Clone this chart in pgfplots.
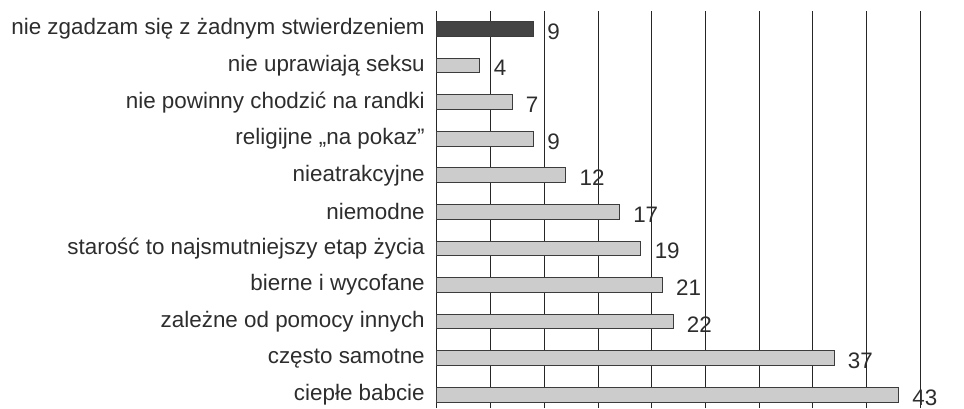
\documentclass[border=0pt]{standalone}
\usepackage{fontspec}
\setmainfont{Liberation Sans}
\usepackage{xcolor}
\definecolor{barfill}{RGB}{204,204,204}
\definecolor{bardark}{RGB}{68,68,68}
\definecolor{barline}{RGB}{60,60,60}
\definecolor{txt}{RGB}{45,45,45}
\usepackage{pgfplots}
\pgfplotsset{compat=1.18}

\begin{document}
\begin{tikzpicture}
% frame in px*0.75pt so that the page keeps the 964x408 proportions
\path[use as bounding box] (-327.75pt,0pt) rectangle (395.25pt,306pt);
\begin{axis}[
  at={(0pt,0pt)}, anchor=south west,
  scale only axis,
  width=395.25pt, height=297.75pt,
  xbar, bar width=11pt, bar shift=0pt,
  xmin=0, xmax=49.1,
  ymin=-0.36, ymax=10.49,
  axis x line*=bottom, axis y line*=left,
  x axis line style={draw=none},
  y axis line style={draw=black!85, line width=0.75pt},
  xtick={5,10,...,45}, xticklabels={},
  xmajorgrids=true,
  grid style={draw=black!85, line width=0.7pt},
  major tick length=0pt,
  /pgf/number format/assume math mode=true,
  ytick={0,...,10},
  yticklabels={ciepłe babcie, często samotne, zależne od pomocy innych,
    bierne i wycofane, starość to najsmutniejszy etap życia, niemodne,
    nieatrakcyjne, religijne „na pokaz”, nie powinny chodzić na randki,
    nie uprawiają seksu, nie zgadzam się z żadnym stwierdzeniem},
  yticklabel style={font=\fontsize{16.8}{20}\selectfont, text=txt,
    anchor=east, inner sep=0pt, xshift=-9pt},
  nodes near coords,
  every node near coord/.style={font=\fontsize{16.8}{20}\selectfont,
    text=txt, anchor=west, inner sep=0pt, xshift=10pt, yshift=-2pt},
  clip=false,
]
\addplot[fill=barfill, draw=barline, line width=0.75pt] coordinates {
  (43,0) (37,1) (22,2) (21,3) (19,4) (17,5) (12,6) (9,7) (7,8) (4,9)
};
\addplot[fill=bardark, draw=barline, line width=0.75pt] coordinates {
  (9,10)
};
\end{axis}
\end{tikzpicture}
\end{document}
